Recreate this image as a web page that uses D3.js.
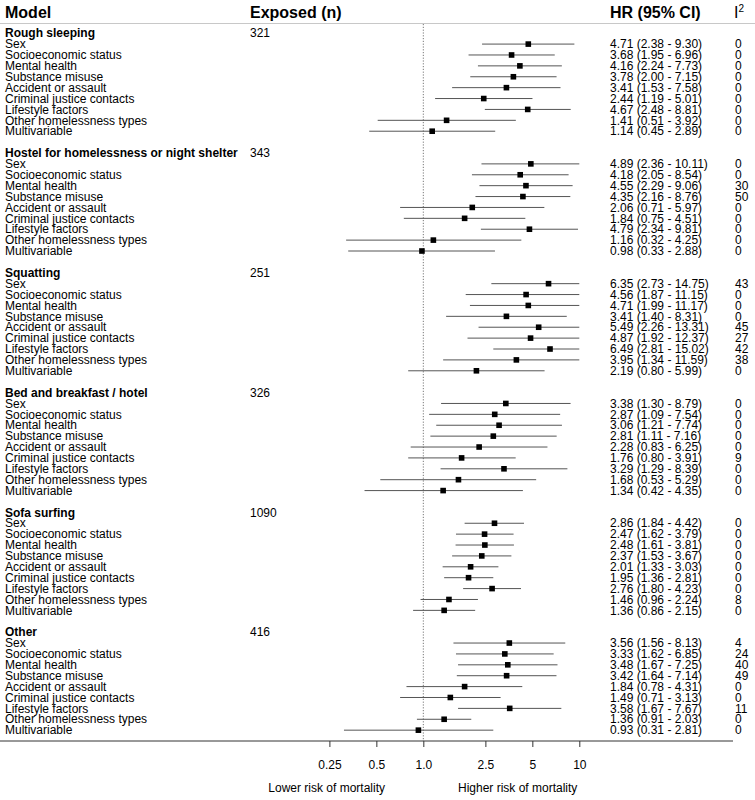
<!DOCTYPE html>
<html><head><meta charset="utf-8">
<script src="https://cdn.jsdelivr.net/npm/d3@7"></script>
<style>body{margin:0;background:#fff}svg{display:block}text{font-family:"Liberation Sans",Arial,sans-serif;fill:#000}</style>
</head><body><svg id="c" width="755" height="800"></svg>
<script>
const groups = ["Rough sleeping","Hostel for homelessness or night shelter","Squatting","Bed and breakfast / hotel","Sofa surfing","Other"];
const exposedN = [321,343,251,326,1090,416];
const covariates = ["Sex","Socioeconomic status","Mental health","Substance misuse","Accident or assault","Criminal justice contacts","Lifestyle factors","Other homelessness types","Multivariable"];
const hr = [
 [4.71,3.68,4.16,3.78,3.41,2.44,4.67,1.41,1.14],
 [4.89,4.18,4.55,4.35,2.06,1.84,4.79,1.16,0.98],
 [6.35,4.56,4.71,3.41,5.49,4.87,6.49,3.95,2.19],
 [3.38,2.87,3.06,2.81,2.28,1.76,3.29,1.68,1.34],
 [2.86,2.47,2.48,2.37,2.01,1.95,2.76,1.46,1.36],
 [3.56,3.33,3.48,3.42,1.84,1.49,3.58,1.36,0.93]];
const ciLow = [
 [2.38,1.95,2.24,2.00,1.53,1.19,2.48,0.51,0.45],
 [2.36,2.05,2.29,2.16,0.71,0.75,2.34,0.32,0.33],
 [2.73,1.87,1.99,1.40,2.26,1.92,2.81,1.34,0.80],
 [1.30,1.09,1.21,1.11,0.83,0.80,1.29,0.53,0.42],
 [1.84,1.62,1.61,1.53,1.33,1.36,1.80,0.96,0.86],
 [1.56,1.62,1.67,1.64,0.78,0.71,1.67,0.91,0.31]];
const ciHigh = [
 [9.30,6.96,7.73,7.15,7.58,5.01,8.81,3.92,2.89],
 [10.11,8.54,9.06,8.76,5.97,4.51,9.81,4.25,2.88],
 [14.75,11.15,11.17,8.31,13.31,12.37,15.02,11.59,5.99],
 [8.79,7.54,7.74,7.16,6.25,3.91,8.39,5.29,4.35],
 [4.42,3.79,3.81,3.67,3.03,2.81,4.23,2.24,2.15],
 [8.13,6.85,7.25,7.14,4.31,3.13,7.67,2.03,2.81]];
const i2 = [
 [0,0,0,0,0,0,0,0,0],
 [0,0,30,50,0,0,0,0,0],
 [43,0,0,0,45,27,42,38,0],
 [0,0,0,0,0,9,0,0,0],
 [0,0,0,0,0,0,0,8,0],
 [4,24,40,49,0,0,11,0,0]];
const tickValues = [0.25,0.5,1,2.5,5,10];
const tickLabels = ["0.25","0.5","1.0","2.5","5","10"];

const svg = d3.select("#c");
const x = d3.scaleLog().domain([0.25,10]).range([329.4,579.3]).clamp(true);
const rowStep = 10.89, y0 = 33.2;
const rowY = d3.scaleLinear().domain([0,1]).range([y0,y0+rowStep]);

// headers
const hdr = svg.append("g").attr("font-weight","bold").attr("font-size","16px");
hdr.append("text").attr("x",5).attr("y",12).attr("dy","0.35em").text("Model");
hdr.append("text").attr("x",250).attr("y",12).attr("dy","0.35em").text("Exposed (n)");
hdr.append("text").attr("x",610).attr("y",12).attr("dy","0.35em").text("HR (95% CI)");
const iT = hdr.append("text").attr("x",734).attr("y",12).attr("dy","0.35em").attr("font-weight","normal");
iT.append("tspan").text("I");
iT.append("tspan").attr("font-size","10px").attr("dy","-0.6em").text("2");
svg.append("line").attr("x1",0).attr("x2",755).attr("y1",23.5).attr("y2",23.5).attr("stroke","#c8c8c8").attr("stroke-width",1);

// reference line
svg.append("line").attr("x1",x(1)).attr("x2",x(1)).attr("y1",24).attr("y2",741)
  .attr("stroke","#555").attr("stroke-width",0.8).attr("stroke-dasharray","1.2,1.6");

const rows = [];
groups.forEach((g,gi)=>{
  const base = gi*11;
  rows.push({type:"group",idx:base,label:g,n:exposedN[gi]});
  covariates.forEach((c,ci)=>{
    rows.push({type:"row",idx:base+1+ci,label:c,hr:hr[gi][ci],lo:ciLow[gi][ci],hi:ciHigh[gi][ci],i2:i2[gi][ci]});
  });
});

const body = svg.append("g").attr("font-size","12px");
rows.forEach(r=>{
  const yy = rowY(r.idx);
  if(r.type==="group"){
    body.append("text").attr("x",5).attr("y",yy).attr("dy","0.35em").attr("font-weight","bold").text(r.label);
    body.append("text").attr("x",250).attr("y",yy).attr("dy","0.35em").text(r.n);
  } else {
    body.append("text").attr("x",5).attr("y",yy).attr("dy","0.35em").text(r.label);
    body.append("line").attr("x1",x(r.lo)).attr("x2",x(r.hi)).attr("y1",yy).attr("y2",yy)
      .attr("stroke","#555").attr("stroke-width",1);
    body.append("rect").attr("x",x(r.hr)-2.8).attr("y",yy-2.8).attr("width",5.6).attr("height",5.6).attr("fill","#000");
    body.append("text").attr("x",610).attr("y",yy).attr("dy","0.35em")
      .text(`${r.hr.toFixed(2)} (${r.lo.toFixed(2)} - ${r.hi.toFixed(2)})`);
    body.append("text").attr("x",735).attr("y",yy).attr("dy","0.35em").text(r.i2);
  }
});

// axis
svg.append("line").attr("x1",0).attr("x2",733).attr("y1",741).attr("y2",741).attr("stroke","#333").attr("stroke-width",1);
const ax = svg.append("g").attr("transform","translate(0,741)")
  .call(d3.axisBottom(x).tickValues(tickValues).tickFormat((d,i)=>tickLabels[i]).tickSize(6).tickPadding(13));
ax.select(".domain").remove();
ax.selectAll(".tick line").attr("stroke","#333");
ax.selectAll("text").attr("font-size","12px").attr("font-family","Liberation Sans, Arial, sans-serif");

svg.append("text").attr("x",385).attr("y",788).attr("dy","0.35em").attr("font-size","12px").attr("text-anchor","end").text("Lower risk of mortality");
svg.append("text").attr("x",458).attr("y",788).attr("dy","0.35em").attr("font-size","12px").text("Higher risk of mortality");
</script></body></html>
